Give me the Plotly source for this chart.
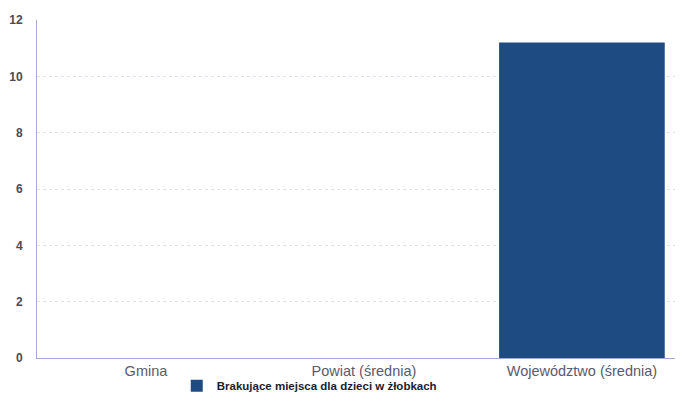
import plotly.graph_objects as go

categories = ["Gmina", "Powiat (średnia)", "Województwo (średnia)"]
values = [0, 0, 11.2]
series_name = "Brakujące miejsca dla dzieci w żłobkach"
y_ticks = [0, 2, 4, 6, 8, 10, 12]

fig = go.Figure()
fig.add_trace(go.Bar(
    x=categories, y=values, name=series_name,
    marker=dict(color="#1f4b83", line=dict(width=0)),
    width=0.76, showlegend=True,
))

fig.update_layout(
    width=675, height=405,
    margin=dict(l=29, r=3, t=12, b=55, autoexpand=False),
    paper_bgcolor="white", plot_bgcolor="white",
    font=dict(family="Liberation Sans, Arial, sans-serif", size=11, color="#555560"),
    showlegend=True,
    legend=dict(orientation="h", x=0.25, xanchor="left", xref="container",
                y=0.067, yanchor="middle", yref="container",
                font=dict(size=11.5, color="#1c1c30", weight="bold"), itemwidth=30,
                tracegroupgap=0, bgcolor="rgba(0,0,0,0)"),
)
fig.update_xaxes(
    automargin=False, range=[-0.5, 2.45],
    showline=True, linecolor="#a8a8d8", linewidth=1,
    ticks="", showgrid=False, tickfont=dict(size=14.5, color="#5a5a6e"),
)
fig.update_yaxes(
    automargin=False,
    range=[0, 12], tickvals=y_ticks, showline=True, linecolor="#a8a8d8", linewidth=1,
    showgrid=True, gridcolor="#e2e2ec", griddash="dot", gridwidth=1,
    zeroline=False, ticks="outside", ticklen=11, tickcolor="rgba(0,0,0,0)",
    tickfont=dict(size=12, color="#4a4a58", weight="bold"),
)

fig.write_html("out.html")
